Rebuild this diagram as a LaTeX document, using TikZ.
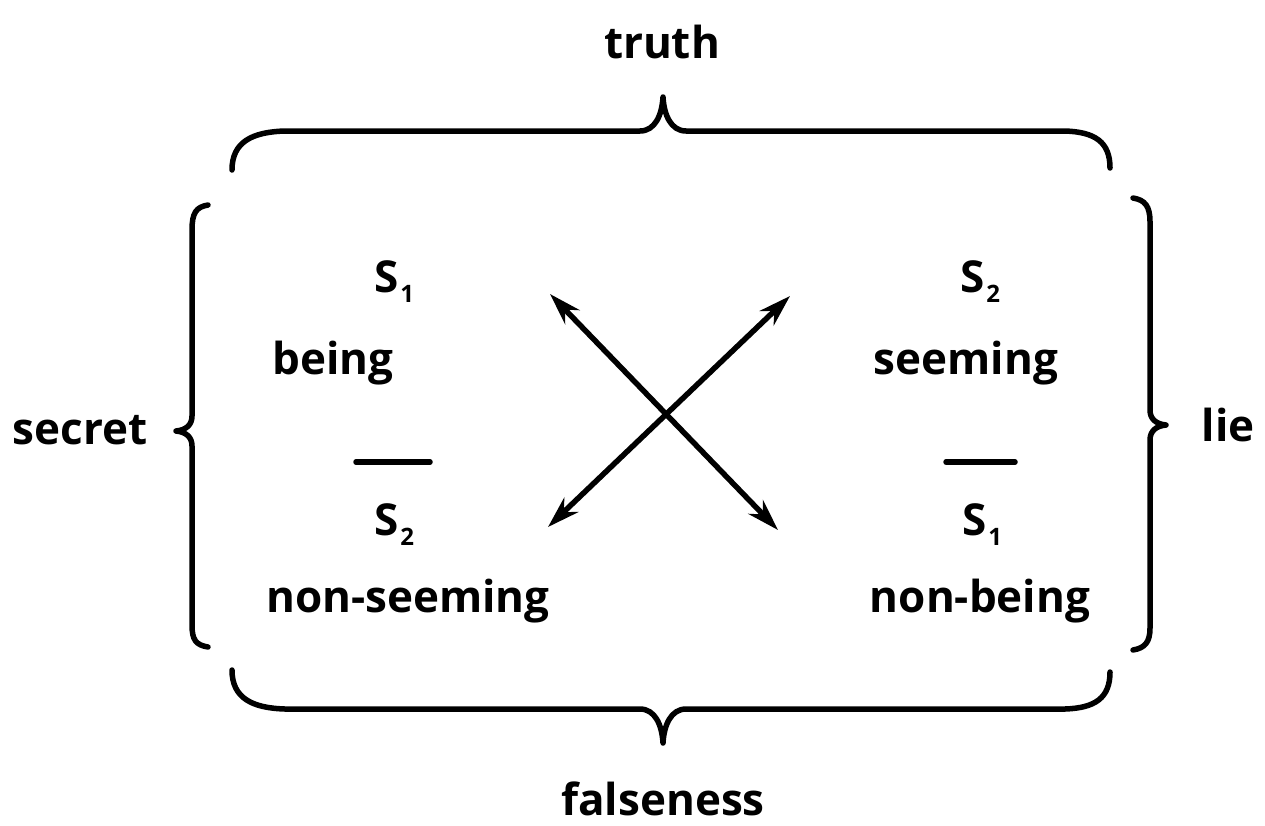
\documentclass[tikz,border=0pt]{standalone}
\usepackage{fontspec}
\setmainfont{Open Sans}
\usetikzlibrary{arrows.meta,calc}
\begin{document}
\begin{tikzpicture}[x=1pt,y=-1pt,line cap=round,line join=round,
  lbl/.style={font=\fontsize{44}{50}\selectfont\bfseries,inner sep=0pt,anchor=base},
  brc/.style={line width=5.5pt},
  bar/.style={line width=5.5pt},
  arr/.style={line width=5.5pt,{Stealth[length=32pt,width=20pt]}-{Stealth[length=32pt,width=20pt]}}]
\useasboundingbox (0,0) rectangle (1265,825);
\newcommand{\sub}[1]{\kern2pt\raisebox{-10pt}{\fontsize{24}{24}\selectfont #1}}
% labels
\node[lbl] (truth) at (662,58) {truth};
\node[lbl] (false) at (663,815) {falseness};
\node[lbl] (secret) at (80,444) {secret};
\node[lbl] (lie) at (1228,441) {lie};
\node[lbl] (s1) at (394,292) {S\sub{1}};
\node[lbl] (being) at (333,374) {being};
\node[lbl] (s2) at (980,292) {S\sub{2}};
\node[lbl] (seeming) at (966,374) {seeming};
\node[lbl] (ns2) at (394,535) {S\sub{2}};
\node[lbl] (nseeming) at (408,612) {non-seeming};
\node[lbl] (ns1) at (982,535) {S\sub{1}};
\node[lbl] (nbeing) at (980,612) {non-being};
% bars
\draw[bar] ($(ns2.base)+(-38,-73)$) -- ($(ns2.base)+(36,-73)$);
\draw[bar] ($(ns1.base)+(-36,-73)$) -- ($(ns1.base)+(33,-73)$);
% arrows
\coordinate (a1) at (550,294);
\coordinate (a2) at (778,530);
\coordinate (b1) at (790,296);
\coordinate (b2) at (548,527);
\draw[arr] (a1) -- (a2);
\draw[arr] (b1) -- (b2);
% top brace
\draw[brc] (232,170) .. controls (232,142) and (252,132) .. (285,131) -- (640,131)
  .. controls (655,131) and (662,115) .. (663,97)
  .. controls (664,115) and (671,131) .. (686,131) -- (1065,131)
  .. controls (1095,132) and (1110,142) .. (1110,168);
% bottom brace
\draw[brc] (232,670) .. controls (232,698) and (252,708) .. (285,709) -- (640,709)
  .. controls (655,709) and (662,725) .. (663,743)
  .. controls (664,725) and (671,709) .. (686,709) -- (1065,709)
  .. controls (1095,708) and (1110,698) .. (1110,672);
% left brace
\draw[brc] (208,205) .. controls (196,207) and (192,213) .. (192,230) -- (192,416)
  .. controls (192,425) and (186,430) .. (176,431)
  .. controls (186,432) and (192,437) .. (192,446) -- (192,625)
  .. controls (192,640) and (196,645) .. (208,647);
% right brace
\draw[brc] (1133,198) .. controls (1145,200) and (1150,206) .. (1150,222) -- (1150,410)
  .. controls (1150,419) and (1156,424) .. (1166,425)
  .. controls (1156,426) and (1150,431) .. (1150,440) -- (1150,628)
  .. controls (1150,642) and (1145,648) .. (1133,650);
\end{tikzpicture}
\end{document}
